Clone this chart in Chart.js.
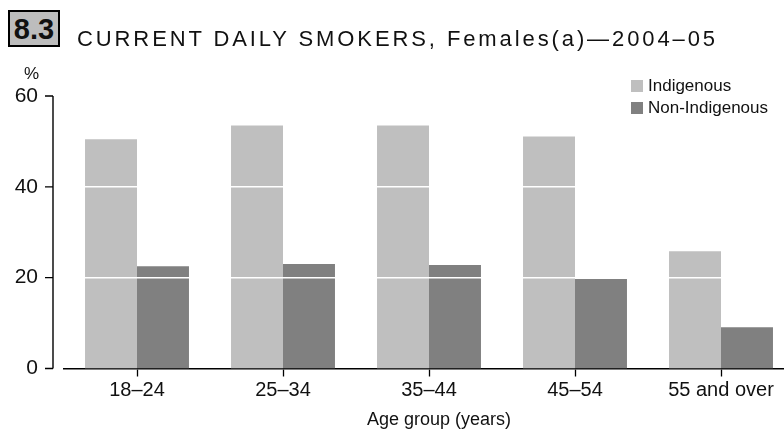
<!DOCTYPE html>
<html>
<head>
<meta charset="utf-8">
<script src="https://cdn.jsdelivr.net/npm/chart.js@4.4.0/dist/chart.umd.min.js"></script>
<style>
  html, body { margin: 0; padding: 0; background: #fff; overflow: hidden; }
  body { width: 784px; height: 430px; position: relative; font-family: "Liberation Sans", Arial, sans-serif; color: #111; }
  #wrap { position: absolute; left: 0; top: 0; width: 800px; height: 430px; }
  .num { position: absolute; left: 8px; top: 10px; width: 48px; height: 33px; border: 2px solid #000; background: #bdbdbd;
         font-weight: bold; font-size: 29px; line-height: 34px; text-align: center; }
  .title { position: absolute; left: 77px; top: 27px; font-size: 22px; line-height: 24px; letter-spacing: 2.9px; white-space: nowrap; }
  .pct { position: absolute; left: 24px; top: 64px; font-size: 17px; line-height: 20px; }
  .legend { position: absolute; left: 631px; top: 75px; font-size: 17px; line-height: 21.5px; }
  .legend span.sw { display: inline-block; width: 12px; height: 12px; margin-right: 5px; vertical-align: -1px; }
  .xtitle { position: absolute; left: 0; width: 878px; top: 409px; text-align: center; font-size: 18px; line-height: 20px; white-space: nowrap; }
</style>
</head>
<body>
<div id="wrap"><canvas id="chart" width="800" height="430"></canvas></div>
<div class="num">8.3</div>
<div class="title">CURRENT DAILY SMOKERS, Females(a)—2004–05</div>
<div class="pct">%</div>
<div class="legend" id="legend"></div>
<div class="xtitle">Age group (years)</div>
<script>
const ageGroups = ["18–24", "25–34", "35–44", "45–54", "55 and over"];
const indigenous = [50.5, 53.5, 53.5, 51.1, 25.8];
const nonIndigenous = [22.5, 23.0, 22.8, 19.7, 9.1];
const yTicks = [0, 20, 40, 60];
const whiteLines = [20, 40];
const seriesNames = ["Indigenous", "Non-Indigenous"];
const seriesColors = ["#bfbfbf", "#808080"];

// legend as plain html
const legendBox = document.getElementById("legend");
seriesNames.forEach(function (name, i) {
  const row = document.createElement("div");
  row.innerHTML = '<span class="sw" style="background:' + seriesColors[i] + '"></span>' + name;
  legendBox.appendChild(row);
});

// white gridlines over the bars, y axis a little left of the plot
const axisExtras = {
  id: "axisExtras",
  afterDatasetsDraw: function (chart) {
    const c = chart.ctx;
    const area = chart.chartArea;
    const y = chart.scales.y;
    c.save();
    c.strokeStyle = "#fff";
    c.lineWidth = 1.5;
    c.beginPath();
    whiteLines.forEach(function (v) {
      const py = y.getPixelForValue(v);
      c.moveTo(area.left, py);
      c.lineTo(area.right, py);
    });
    c.stroke();

    const x = area.left - 11;
    c.strokeStyle = "#000";
    c.lineWidth = 1.4;
    c.beginPath();
    c.moveTo(x, y.getPixelForValue(60));
    c.lineTo(x, y.getPixelForValue(0));
    yTicks.forEach(function (v) {
      const py = y.getPixelForValue(v);
      c.moveTo(x - 8, py);
      c.lineTo(x, py);
    });
    c.stroke();
    c.restore();
  },
};

const ctx = document.getElementById("chart").getContext("2d");
new Chart(ctx, {
  type: "bar",
  data: {
    labels: ageGroups,
    datasets: [
      { label: seriesNames[0], data: indigenous, backgroundColor: seriesColors[0], borderWidth: 0 },
      { label: seriesNames[1], data: nonIndigenous, backgroundColor: seriesColors[1], borderWidth: 0 },
    ],
  },
  options: {
    responsive: false,
    animation: false,
    events: [],
    layout: { padding: { top: 96, right: 6, left: 0, bottom: 0 } },
    datasets: { bar: { barPercentage: 1, categoryPercentage: 0.712 } },
    plugins: { legend: { display: false }, tooltip: { enabled: false } },
    scales: {
      x: {
        grid: { offset: false, drawOnChartArea: false, tickColor: "#000", tickLength: 8, tickWidth: 1.3 },
        border: { color: "#000", width: 1.6 },
        ticks: { color: "#111", font: { family: "Liberation Sans", size: 20 }, padding: 2 },
        afterFit: function (s) { s.height = 61.5; },
      },
      y: {
        min: 0,
        max: 60,
        afterBuildTicks: function (s) { s.ticks = yTicks.map(function (v) { return { value: v }; }); },
        grid: { display: false },
        border: { display: false },
        ticks: { color: "#111", font: { family: "Liberation Sans", size: 21 }, padding: 18 },
        afterFit: function (s) { s.width = 64; },
      },
    },
  },
  plugins: [axisExtras],
});
</script>
</body>
</html>
